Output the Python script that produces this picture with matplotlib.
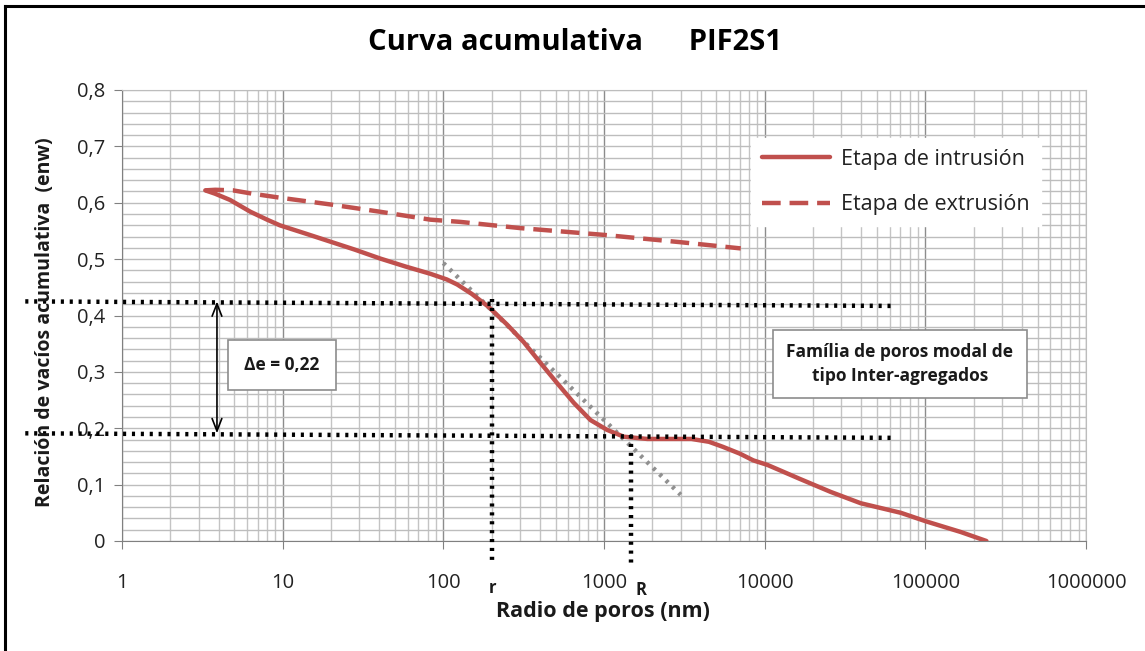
import matplotlib
matplotlib.use("Agg")
import matplotlib.pyplot as plt
from matplotlib.ticker import LogLocator, FixedLocator, NullFormatter
from matplotlib.lines import Line2D

# ---------------- data ----------------
intr_x = [3.3, 3.8, 4.7, 6.3, 8, 9.6, 14, 19.8, 28, 40.5, 58, 83, 105, 122, 150,
          191, 249, 316, 402, 511, 649, 824, 1047, 1328, 1860, 2600, 3500, 4500, 5500,
          7000, 8500, 10400, 16600, 25800, 39600, 70400, 100600, 166000, 240000]
intr_y = [0.622, 0.616, 0.605, 0.584, 0.570, 0.560, 0.545, 0.531, 0.517, 0.501,
          0.487, 0.474, 0.464, 0.455, 0.4385, 0.4155, 0.384, 0.353, 0.316, 0.280, 0.245,
          0.2145, 0.197, 0.185, 0.181, 0.181, 0.181, 0.176, 0.167, 0.155, 0.143, 0.135,
          0.110, 0.087, 0.067, 0.050, 0.035, 0.016, 0.0]

extr_x = [3.3, 3.8, 4.9, 6.5, 9.6, 19.8, 40.5, 83, 128, 302, 1000, 3000, 7100]
extr_y = [0.622, 0.623, 0.622, 0.616, 0.609, 0.597, 0.584, 0.570, 0.566, 0.555, 0.543,
          0.530, 0.519]

upper_x = [0.25, 61000]
upper_y = [0.425, 0.417]
lower_x = [0.25, 61000]
lower_y = [0.191, 0.183]

r_x = [202, 202]
r_y = [0.43, -0.039]
R_x = [1483, 1483]
R_y = [0.188, -0.039]

tang_x = [100, 3000]
tang_y = [0.493, 0.082]

arrow_x = 3.9
arrow_y = [0.425, 0.191]

x_ticks = [1, 10, 100, 1000, 10000, 100000, 1000000]
x_ticklabels = ["1", "10", "100", "1000", "10000", "100000", "1000000"]
y_ticks = [0, 0.1, 0.2, 0.3, 0.4, 0.5, 0.6, 0.7, 0.8]
y_ticklabels = ["0", "0,1", "0,2", "0,3", "0,4", "0,5", "0,6", "0,7", "0,8"]

RED = "#C0504D"
FONT = ["Open Sans", "DejaVu Sans"]
plt.rcParams["font.family"] = FONT

fig = plt.figure(figsize=(11.45, 6.51), dpi=100)
ax = fig.add_axes([122/1145, 1 - 541/651, (1086-122)/1145, (541-90)/651])

ax.set_xscale("log")
ax.set_xlim(1, 1e6)
ax.set_ylim(0, 0.8)

# grid
ax.xaxis.set_major_locator(FixedLocator(x_ticks))
ax.xaxis.set_minor_locator(LogLocator(base=10, subs=range(2, 10), numticks=100))
ax.xaxis.set_minor_formatter(NullFormatter())
ax.set_xticklabels(x_ticklabels)
ax.yaxis.set_major_locator(FixedLocator(y_ticks))
ax.set_yticklabels(y_ticklabels)
ax.yaxis.set_minor_locator(FixedLocator([i * 0.02 for i in range(41)]))

ax.grid(which="major", axis="x", color="#8c8c8c", lw=1.0)
ax.grid(which="minor", axis="x", color="#c4c4c4", lw=1.0)
ax.grid(which="both", axis="y", color="#bdbdbd", lw=1.0)
ax.set_axisbelow(True)

ax.tick_params(axis="x", which="major", length=6, color="#808080", pad=17,
               labelsize=14.5, labelcolor="#222222")
ax.tick_params(axis="y", which="major", length=6, color="#808080", pad=6,
               labelsize=14.5, labelcolor="#222222")
ax.tick_params(which="minor", length=0)
for s in ["left", "bottom"]:
    ax.spines[s].set_color("#808080")
for s in ["top", "right"]:
    ax.spines[s].set_color("#bdbdbd")

# curves
ax.plot(intr_x, intr_y, color=RED, lw=3.2, solid_capstyle="round",
        solid_joinstyle="round", zorder=4, label="Etapa de intrusión")
ax.plot(extr_x, extr_y, color=RED, lw=3.2, ls=(0, (4.2, 2)), zorder=4,
        label="Etapa de extrusión")

# dotted construction lines
dot = dict(color="black", lw=3.2, ls=(0, (0.7, 1.3)), clip_on=False, zorder=5)
ax.plot(upper_x, upper_y, **dot)
ax.plot(lower_x, lower_y, **dot)
ax.plot(r_x, r_y, **dot)
ax.plot(R_x, R_y, **dot)
ax.plot(tang_x, tang_y, color="#909090", lw=3.2, ls=(0, (0.7, 1.3)), zorder=3)

# double arrow
ax.annotate("", xy=(arrow_x, arrow_y[1]), xytext=(arrow_x, arrow_y[0]),
            arrowprops=dict(arrowstyle="<->,head_length=0.9,head_width=0.35",
                            color="black", lw=1.2, shrinkA=0, shrinkB=0), zorder=6)

# text boxes
ax.text(282/1145, 1 - 365/651, "Δe = 0,22", transform=fig.transFigure,
        ha="center", va="center", fontsize=12.5, fontweight="bold", color="#1a1a1a",
        bbox=dict(boxstyle="square,pad=0.95", fc="white", ec="#8c8c8c", lw=1.2),
        zorder=7)
ax.text(900/1145, 1 - 364/651, "Família de poros modal de\ntipo Inter-agregados",
        transform=fig.transFigure, ha="center", va="center", fontsize=12.5,
        fontweight="bold", color="#1a1a1a", linespacing=1.4,
        bbox=dict(boxstyle="square,pad=0.75", fc="white", ec="#8c8c8c", lw=1.2),
        zorder=7)

# r and R labels
fig.text(493/1145, 1 - 588/651, "r", ha="center", va="center", fontsize=12,
         fontweight="bold", color="#1a1a1a")
fig.text(641/1145, 1 - 590/651, "R", ha="center", va="center", fontsize=12,
         fontweight="bold", color="#1a1a1a")

# legend
leg = ax.legend(loc="upper left", bbox_to_anchor=((740-122)/964, (541-127)/451),
                frameon=True, fancybox=False, framealpha=1, edgecolor="white",
                facecolor="white", fontsize=15.5, handlelength=3.2, labelspacing=1.15,
                borderpad=0.5, handletextpad=0.5, labelcolor="#222222")
leg.set_zorder(8)

# labels and title
fig.text(603/1145, 1 - 612/651, "Radio de poros (nm)", ha="center", va="center",
         fontsize=15.5, fontweight="bold", color="#1a1a1a")
fig.text(45/1145, 1 - 322/651, "Relación de vacíos acumulativa  (enw)", ha="center",
         va="center", rotation=90, fontsize=14, fontweight="bold", color="#1a1a1a")
fig.text(575/1145, 1 - 42/651, "Curva acumulativa      PIF2S1", ha="center",
         va="center", fontsize=21, fontweight="bold", color="black")

# outer frame (left and top visible)
fig.add_artist(Line2D([5/1145, 5/1145], [0, 1 - 6/651], transform=fig.transFigure,
                      color="black", lw=2.2))
fig.add_artist(Line2D([5/1145, 1], [1 - 6/651, 1 - 6/651], transform=fig.transFigure,
                      color="black", lw=2.2))

fig.savefig("out.png", dpi=100)
